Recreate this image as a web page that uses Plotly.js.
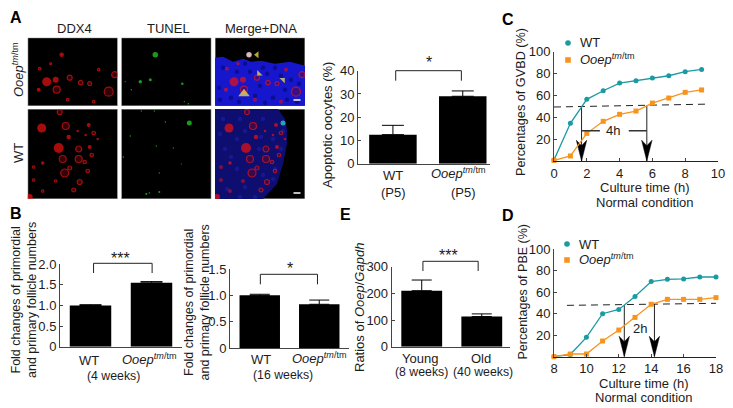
<!DOCTYPE html>
<html><head><meta charset="utf-8">
<script src="https://cdn.plot.ly/plotly-3.0.1.min.js"></script>
<style>html,body{margin:0;padding:0;background:#fff}</style></head>
<body><div id="chart" style="width:733px;height:408px"></div>
<script>
const OOEP = '<i>Ooep</i><sup><i>tm</i>/tm</sup>';
// Panel A bars
const aVals = [12.5, 29];
const aErr = [4, 2.3];
// Panel B bars
const b1Vals = [1.0, 1.55];
const b1Err = [0.02, 0.03];
const b2Vals = [1.0, 0.83];
const b2Err = [0.02, 0.08];
// Panel E bars
const eVals = [210, 113];
const eErr = [40, 10];
// Panel C lines
const cHours = [0,1,2,3,4,5,6,7,8,9];
const cWT = [1,34.5,56.4,64.3,71.3,73.5,76,78,81.7,83.8];
const cTm = [0.5,4.6,25.3,36.3,42.7,45.7,53,57.6,62.8,65];
const cDashX = [0,9.25];
const cDashY = [49.4,52];
const cMarks = [[1.68,49.4],[5.66,50.8]];
// Panel D lines
const dHours = [8,9,10,11,12,13,14,15,16,17,18];
const dWT = [0,2,18,40,44,56,70,72,72.4,74.2,74.2];
const dTm = [0,2.5,2.5,14.6,24.8,36.6,48.8,53.4,53.4,53.4,55];
const dDashX = [8.8,18];
const dDashY = [47.8,49.7];
const dMarks = [[12.34,48],[14.2,49]];
// Panel A micrographs: spots as [x, y, diameter] in the micrograph's own scale
const tmRedFilled = [[34,17,4.5],[19,44,9],[28,42,6],[11,52,4]];
const tmRedRing = [[29,52,7],[81,54,9],[53,45,4.5],[62,46,4],[42,40,5],[87,37,6],[12,31,2.5],[23,26,2],[71,32,2.5],[40,62,2.5],[66,64,2.5]];
const wtRedFilled = [[14,19,9],[41,28,4.5],[31,39,10],[2,88,6],[15,54,3.5],[61,16,4],[62,38,4],[50,22,2.5],[70,30,2.5],[58,26,2.5]];
const wtRedRing = [[38,17,7],[35,50,7],[51,50,7],[51,40,6],[37,64,8],[42,59,4],[57,53,3.5],[46,81,4],[52,73,5],[6,71,2.5],[6,58,2.5],[32,3,5],[64,46,3.5],[60,62,3.5],[28,72,2.5],[15,82,2.5],[66,24,3.5]];
const tmGreen = [[34,17,5.5],[19,44,3.5],[29,42,3],[61,46,2.5],[10,52,1.5],[67,66,1.5],[63,64,1.2],[4,44,1.2]];
const wtGreen = [[68,14,5],[44,13,1.5],[9,27,1.5],[2,48,1.5],[35,37,1.3],[52,39,1.3],[25,85,2],[38,83,2],[38,64,1.3],[60,55,1.2],[20,2,1.3],[33,2,1.3],[28,84,1.5]];
const tmTissueX = [0,8,18,28,36,46,60,75,90,90,0];
const tmTissueY = [20,19,24,21,24,23,26,24,28,68,68];
const wtTissueX = [0,63,70,72,72,68,62,48,0];
const wtTissueY = [0,0,10,20,35,55,75,90,90];
const tmNuclei = [[8,30],[22,34],[48,30],[66,38],[76,42],[4,50],[40,58],[58,60],[72,62],[16,60],[52,36],[35,34],[30,26],[60,30],[84,46],[45,48],[5,62],[24,64],[50,65],[82,64],[70,52]];
const wtNuclei = [[8,10],[25,10],[48,10],[58,30],[22,30],[10,40],[44,40],[22,60],[48,66],[12,80],[30,78],[60,60],[66,40],[5,25],[30,22],[46,28],[16,48],[25,88],[40,88],[58,70],[68,22]];
const WHITE_BAR = [[78.5,85.5]];
const Y_TOP_RIGHT = [[42,17],[44,36],[68,42],[29,56]];

const W = 733, H = 408;
const FONT = 'Liberation Sans, Arial, sans-serif';
const TXT = '#1c1c1c';
const TEAL = '#1a9aa2', ORANGE = '#f7941e';
const layout = {
  width: W, height: H, margin: {l:0,r:0,t:0,b:0}, autosize:false,
  paper_bgcolor:'#fff', plot_bgcolor:'rgba(0,0,0,0)', showlegend:false,
  font:{family:FONT,size:13,color:TXT}, annotations:[], shapes:[]
};
const traces = [];
function box(n,l,r,t,b,xo,yo){
  const s = n===1?'':n;
  layout['xaxis'+s] = Object.assign({domain:[l/W,r/W],anchor:'y'+s,showgrid:false,zeroline:false,showline:true,linecolor:'#444',linewidth:1,tickfont:{size:13,color:TXT}},xo);
  layout['yaxis'+s] = Object.assign({domain:[1-b/H,1-t/H],anchor:'x'+s,showgrid:false,zeroline:false,showline:true,linecolor:'#444',linewidth:1,tickfont:{size:13,color:TXT},ticks:'inside',ticklen:3,tickcolor:'#444'},yo);
}
function note(x,y,text,o){
  layout.annotations.push(Object.assign({xref:'paper',yref:'paper',x:x/W,y:1-y/H,text:text,showarrow:false,xanchor:'center',yanchor:'middle',font:{size:13,color:TXT,family:FONT}},o||{}));
}
function yTitle(x,y,text,size){ note(x,y,text,{textangle:-90,font:{size:size||13,color:TXT,family:FONT}}); }
function letter(x,y,t){ note(x,y,'<b>'+t+'</b>',{font:{size:16,color:'#000',family:FONT}}); }

function bars(n,vals,err,capW,brX,brTopPx,brLowPx){
  const s = n===1?'':n;
  traces.push({type:'bar',x:[0,1],y:vals,width:0.68,xaxis:'x'+s,yaxis:'y'+s,marker:{color:'#000'},
    error_y:{type:'data',symmetric:false,array:err,arrayminus:[0,0],color:'#000',thickness:1,width:capW}});
  const t = 1-brTopPx/H, l = 1-brLowPx/H;
  layout.shapes.push({type:'path',xref:'x'+s,yref:'paper',
    path:`M${brX[0]},${l} L${brX[0]},${t} L${brX[1]},${t} L${brX[1]},${l}`,line:{color:'#222',width:1}});
}
const barX = (r)=>({type:'linear',range:r,ticks:'',tickmode:'array',tickvals:[0,1],showticklabels:false});

// A bars
box(1,358,490,70.7,163.7,barX([-0.5,1.39]),{range:[0,40],tickvals:[0,10,20,30,40]});
bars(1,aVals,aErr,11,[0.04,0.98],70.7,80.7);
// B bars
box(2,60,182,264.3,346.7,barX([-0.5,1.5]),{range:[0,2],tickvals:[0,0.5,1,1.5,2],ticktext:['0','0.5','1.0','1.5','2.0']});
bars(2,b1Vals,b1Err,11,[0.05,1.01],263.3,273);
box(3,230,349,269,348,barX([-0.5,1.5]),{range:[0,1.5],tickvals:[0,0.5,1,1.5],ticktext:['0','0.5','1.0','1.5']});
bars(3,b2Vals,b2Err,10,[0.01,0.97],274.3,284.3);
// E bars
box(4,391.7,510,266.7,346.7,barX([-0.5,1.47]),{range:[0,300],tickvals:[0,100,200,300]});
bars(4,eVals,eErr,10,[0.02,0.94],261.3,271);

function lineChart(n,hours,wt,tm,dashX,dashY,marks,range,top){
  const x='x'+n,y='y'+n;
  traces.push({type:'scatter',mode:'lines',x:dashX,y:dashY,xaxis:x,yaxis:y,line:{color:'#222',width:1,dash:'7px,5px'}});
  marks.forEach(m=>{
    traces.push({type:'scatter',mode:'lines',x:[m[0],m[0]],y:[m[1],0],xaxis:x,yaxis:y,line:{color:'#222',width:1}});
  });
  const xw = (range[1]-range[0])/164*5.2;
  marks.forEach(m=>{
    traces.push({type:'scatter',mode:'lines',fill:'toself',fillcolor:'#000',x:[m[0]-xw,m[0],m[0]+xw,m[0],m[0]-xw],y:[top,top-5,top,0,top],xaxis:x,yaxis:y,line:{color:'#000',width:0.5},cliponaxis:false});
  });
  [[wt,TEAL,'circle','WT'],[tm,ORANGE,'square',OOEP]].forEach(d=>{
    traces.push({type:'scatter',mode:'lines',x:hours,y:d[0],xaxis:x,yaxis:y,line:{color:d[1],width:1.3},cliponaxis:false});
    traces.push({type:'scatter',mode:'markers',name:d[3],x:hours,y:d[0],xaxis:x,yaxis:y,marker:{color:d[1],symbol:d[2],size:5},cliponaxis:false});
  });
}
function legendKey(cx,cy1,cy2,tx){
  layout.shapes.push({type:'circle',xref:'paper',yref:'paper',x0:(cx-2.8)/W,x1:(cx+2.8)/W,y0:1-(cy1+2.8)/H,y1:1-(cy1-2.8)/H,fillcolor:TEAL,line:{width:0}});
  layout.shapes.push({type:'rect',xref:'paper',yref:'paper',x0:(cx-2.8)/W,x1:(cx+2.8)/W,y0:1-(cy2+2.8)/H,y1:1-(cy2-2.8)/H,fillcolor:ORANGE,line:{width:0}});
  note(tx,cy1,'WT',{xanchor:'left'});
  note(tx,cy2-1,OOEP,{xanchor:'left'});
}
const lineX = (r,d)=>({range:r,dtick:d,tick0:r[0],ticks:'inside',ticklen:3,tickcolor:'#444',linecolor:'#222'});
box(5,554,718,51.7,161,lineX([0,10],2),{range:[0,100],tickvals:[20,40,60,80,100]});
lineChart(5,cHours,cWT,cTm,cDashX,cDashY,cMarks,[0,10],19);
legendKey(568,43,60,578);
layout.annotations.push({xref:'x5',yref:'y5',x:3.6,y:27.7,text:'4h',showarrow:false,font:{size:13,color:TXT}});
[[cMarks[0][0],2.8],[4.56,cMarks[1][0]]].forEach(p=>traces.push({type:'scatter',mode:'lines',x:p,y:[27.7,27.7],xaxis:'x5',yaxis:'y5',line:{color:'#333',width:1.5}}));
box(6,554,716,249.3,356.7,lineX([8,18],2),{range:[0,100],tickvals:[20,40,60,80,100]});
lineChart(6,dHours,dWT,dTm,dDashX,dDashY,dMarks,[8,18],19);
legendKey(567,244,260,577);
layout.annotations.push({xref:'x6',yref:'y6',x:13.3,y:26.4,text:'2h',showarrow:false,font:{size:13,color:TXT}});

// A micrographs
const colsX = [[27.7,117.7],[121.3,211.3],[215,305]];
const rowsY = [[37.7,106],[109,199]];
function spots(x,y,arr,color,ring,opacity){
  traces.push({type:'scatter',mode:'markers',xaxis:x,yaxis:y,x:arr.map(a=>a[0]),y:arr.map(a=>a[1]),
    opacity:opacity||1,marker:{size:arr.map(a=>a[2]),color:ring?'rgba(120,5,20,0.6)':color,line:{color:color,width:ring?1.2:0}}});
}
let pn = 7;
rowsY.forEach((ry,r)=>{
  colsX.forEach((cx,c)=>{
    const n = pn++; const x='x'+n, y='y'+n;
    const hgt = ry[1]-ry[0];
    box(n,cx[0],cx[1],ry[0],ry[1],{range:[0,90],visible:false},{range:[hgt,0],visible:false});
    layout.shapes.push({type:'rect',xref:x,yref:y,x0:0,x1:90,y0:0,y1:hgt,fillcolor:'#000',line:{color:'#b5b5b5',width:1},layer:'below'});
    const rf = r===0?tmRedFilled:wtRedFilled, rr = r===0?tmRedRing:wtRedRing, g = r===0?tmGreen:wtGreen;
    if(c===2){
      const tx = r===0?tmTissueX:wtTissueX, ty = r===0?tmTissueY:wtTissueY;
      traces.push({type:'scatter',mode:'lines',fill:'toself',fillcolor:r===0?'#1717cc':'#0e0e70',x:tx,y:ty,xaxis:x,yaxis:y,line:{width:0,color:'rgba(0,0,0,0)'}});
      const nuc = r===0?tmNuclei:wtNuclei;
      spots(x,y,nuc.map(p=>[p[0],p[1],4.5]),r===0?'#07076a':'#2020a8',false,0.8);
    }
    if(c!==1){ spots(x,y,rf,'#ee1010',false); spots(x,y,rr,'#e81515',true); }
    if(c===1) spots(x,y,g,'#22dd22',false);
    if(c===2) spots(x,y,g.slice(0,1),r===0?'#ffffff':'#33dddd',false);
    if(c===2){
      traces.push({type:'scatter',mode:'lines',x:WHITE_BAR[0],y:[hgt-6,hgt-6],xaxis:x,yaxis:y,line:{color:'#fff',width:1.5}});
      if(r===0){
        traces.push({type:'scatter',mode:'markers',x:Y_TOP_RIGHT.map(p=>p[0]),y:Y_TOP_RIGHT.map(p=>p[1]),xaxis:x,yaxis:y,
          marker:{color:'#fff04a',symbol:['triangle-left','triangle-sw','triangle-ne','triangle-up'],size:[6,6,6,10],line:{width:0}}});
      }
    }
  });
});

// texts
letter(16,18,'A'); letter(16,213,'B'); letter(508,19,'C'); letter(508,215,'D'); letter(345,214,'E');
note(74,29,'DDX4'); note(168,29,'TUNEL'); note(261,29,'Merge+DNA');
note(18,70,OOEP,{textangle:-90}); note(18,153,'WT',{textangle:-90});
yTitle(327,125,'Apoptotic oocytes (%)');
yTitle(24,300,'Fold changes of primordial<br>and primary follicle numbers',12.5);
yTitle(196,302.5,'Fold changes of primordial<br>and primary follicle numbers',12.5);
yTitle(359,308,'Ratios of <i>Ooep</i>/<i>Gapdh</i>');
yTitle(521,102,'Percentages of GVBD (%)',12.7);
yTitle(522,292.5,'Percentages of PBE (%)',12.5);
note(645,188,'Culture time (h)'); note(645,202,'Normal condition');
note(644,383,'Culture time (h)'); note(644,397,'Normal condition');
const SMALL = {font:{size:12.3,color:TXT,family:FONT}};
note(393,175,'WT'); note(393,192,'(P5)'); note(459,173,OOEP); note(463,192,'(P5)');
note(89,360,'WT'); note(149,359,OOEP); note(113,376,'(4 weeks)',SMALL);
note(261,359,'WT'); note(319,358,OOEP); note(283,375,'(16 weeks)',SMALL);
note(420,358,'Young'); note(421,372,'(8 weeks)',SMALL); note(481,358,'Old'); note(483,372,'(40 weeks)',SMALL);
const STAR = {font:{size:16,color:TXT,family:FONT}};
note(429,62,'*',STAR); note(120,258,'***',STAR);
note(290,268,'*',STAR); note(448,255,'***',STAR);

traces.forEach(t=>{t.showlegend=false; t.hoverinfo='skip';});
Plotly.newPlot('chart',traces,layout,{displayModeBar:false,staticPlot:true});
</script></body></html>
